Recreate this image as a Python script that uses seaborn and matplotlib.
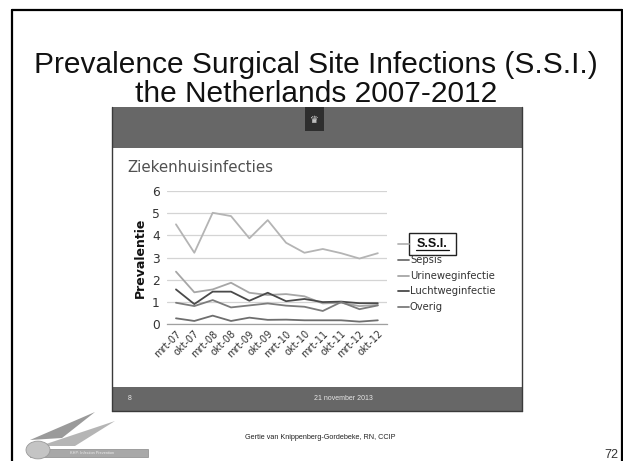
import numpy as np
import pandas as pd
import matplotlib.pyplot as plt
import seaborn as sns
from matplotlib.patches import Rectangle, Circle, Polygon
from matplotlib.lines import Line2D

# Data
periods = ['mrt-07', 'okt-07', 'mrt-08', 'okt-08', 'mrt-09', 'okt-09',
           'mrt-10', 'okt-10', 'mrt-11', 'okt-11', 'mrt-12', 'okt-12']
ssi = [4.5, 3.22, 5.02, 4.87, 3.87, 4.69, 3.67, 3.22, 3.39, 3.2, 2.96, 3.2]
sepsis = [0.27, 0.15, 0.39, 0.15, 0.3, 0.2, 0.21, 0.18, 0.18, 0.18, 0.12, 0.18]
urineweg = [2.37, 1.44, 1.57, 1.87, 1.42, 1.32, 1.36, 1.26, 0.94, 0.97, 0.82, 0.87]
luchtweg = [1.57, 0.91, 1.47, 1.47, 1.06, 1.42, 1.04, 1.14, 1.0, 1.02, 0.95, 0.95]
overig = [0.97, 0.82, 1.09, 0.76, 0.85, 0.94, 0.84, 0.79, 0.6, 1.0, 0.68, 0.85]

series_names = ['S.S.I.', 'Sepsis', 'Urineweginfectie', 'Luchtweginfectie', 'Overig']
series_values = [ssi, sepsis, urineweg, luchtweg, overig]
colors = ['#b4b4b4', '#6e6e6e', '#a6a6a6', '#4a4a4a', '#7c7c7c']

W, H = 623, 461

def fx(x):
    return x / W

def fy(y):
    return 1 - y / H

sns.set_style('white')
plt.rcParams['font.family'] = ['Liberation Sans', 'DejaVu Sans']
CHART_FONT = ['DejaVu Sans']

fig = plt.figure(figsize=(W / 100, H / 100), dpi=100)
fig.patch.set_facecolor('white')

# outer slide frame
fig.add_artist(Line2D([fx(12), fx(12)], [fy(10), fy(470)], color='black', lw=1.6))
fig.add_artist(Line2D([fx(12), fx(622)], [fy(10), fy(10)], color='black', lw=1.6))
fig.add_artist(Line2D([fx(622), fx(622)], [fy(10), fy(470)], color='black', lw=1.6))

# main title
fig.text(fx(316), fy(73), 'Prevalence Surgical Site Infections (S.S.I.)',
         ha='center', va='baseline', fontsize=21.5, color='#111111')
fig.text(fx(316), fy(102), 'the Netherlands 2007-2012',
         ha='center', va='baseline', fontsize=21.5, color='#111111')

# embedded slide: header, body and footer
fig.add_artist(Rectangle((fx(112), fy(148)), fx(522) - fx(112), fy(107) - fy(148),
                         facecolor='#676767', edgecolor='none'))
fig.add_artist(Rectangle((fx(305), fy(131)), fx(324) - fx(305), fy(107) - fy(131),
                         facecolor='#2e2e2e', edgecolor='none'))
fig.text(fx(314.5), fy(120), '♛', ha='center', va='center', fontsize=7,
         color='#e0e0e0', family=['DejaVu Sans'])
fig.add_artist(Rectangle((fx(112), fy(411)), fx(522) - fx(112), fy(387) - fy(411),
                         facecolor='#676767', edgecolor='none'))
for xx in (112, 522):
    fig.add_artist(Line2D([fx(xx), fx(xx)], [fy(107), fy(411)], color='#3a3a3a', lw=1.0))
fig.add_artist(Line2D([fx(112), fx(522)], [fy(411), fy(411)], color='#3a3a3a', lw=1.0))
fig.text(fx(130), fy(398), '8', ha='center', va='center', fontsize=5, color='#e8e8e8')
fig.text(fx(343), fy(398), '21 november 2013', ha='center', va='center',
         fontsize=5, color='#e8e8e8')

# chart title inside embedded slide
fig.text(fx(127), fy(167), 'Ziekenhuisinfecties', ha='left', va='center',
         fontsize=10.8, color='#505050', family=CHART_FONT)

# line chart
left, right, top, bottom = 166.8, 387.0, 191.0, 324.3
ax = fig.add_axes([fx(left), fy(bottom), fx(right) - fx(left), (bottom - top) / H])

rows = []
for name, vals in zip(series_names, series_values):
    for i, (p, v) in enumerate(zip(periods, vals)):
        rows.append({'idx': i, 'periode': p, 'serie': name, 'waarde': v})
df = pd.DataFrame(rows)

sns.lineplot(data=df, x='idx', y='waarde', hue='serie', hue_order=series_names,
             palette=colors, linewidth=1.3, legend=False, ax=ax)

ax.set_xlim(-0.5, len(periods) - 0.5)
ax.set_ylim(0, 6)
ax.set_yticks(range(0, 7))
ax.set_yticklabels([str(v) for v in range(0, 7)], fontsize=8.8, color='#333333',
                   family=CHART_FONT)
ax.set_xticks(range(len(periods)))
ax.set_xticklabels(periods, rotation=45, ha='right', rotation_mode='anchor',
                   fontsize=7, color='#333333', family=CHART_FONT)
ax.set_xticks(np.arange(-0.5, len(periods), 1), minor=True)
ax.tick_params(axis='x', which='major', length=0, pad=3)
ax.tick_params(axis='x', which='minor', length=3, color='#a0a0a0', direction='out')
ax.tick_params(axis='y', length=0, pad=5)
ax.grid(axis='y', color='#d4d4d4', lw=0.9)
ax.set_axisbelow(True)
for s in ('top', 'right', 'left'):
    ax.spines[s].set_visible(False)
ax.spines['bottom'].set_color('#a0a0a0')
ax.spines['bottom'].set_linewidth(0.9)
ax.set_xlabel('')
ax.set_ylabel('Prevalentie', fontsize=9, fontweight='bold', color='#111111',
              labelpad=4, family=CHART_FONT)

# legend drawn to the right of the plot; the first label sits under the S.S.I. box
leg_y = [244, 260, 275.5, 291, 307]
for k, (name, col, yy) in enumerate(zip(series_names, colors, leg_y)):
    fig.add_artist(Line2D([fx(398), fx(409)], [fy(yy), fy(yy)], color=col, lw=1.3))
    if k > 0:
        fig.text(fx(410), fy(yy), name, ha='left', va='center', fontsize=7.2,
                 color='#333333', family=CHART_FONT)

# S.S.I. label box over the first legend entry
fig.add_artist(Rectangle((fx(409), fy(255)), fx(456) - fx(409), fy(233) - fy(255),
                         facecolor='white', edgecolor='#222222', lw=1.0))
fig.text(fx(432.5), fy(243.5), 'S.S.I.', ha='center', va='center', fontsize=9,
         fontweight='bold', color='#111111')
fig.add_artist(Line2D([fx(416), fx(449)], [fy(250), fy(250)], color='#111111', lw=0.9))

# bottom logo and credits
fig.add_artist(Polygon([(fx(30), fy(440)), (fx(95), fy(412)), (fx(62), fy(438))],
                       closed=True, facecolor='#9a9a9a', edgecolor='none'))
fig.add_artist(Polygon([(fx(40), fy(446)), (fx(115), fy(421)), (fx(75), fy(446))],
                       closed=True, facecolor='#b5b5b5', edgecolor='none'))
fig.add_artist(Rectangle((fx(30), fy(457)), fx(148) - fx(30), fy(449) - fy(457),
                         facecolor='#a8a8a8', edgecolor='#888888', lw=0.5))
fig.add_artist(Circle((fx(38), fy(450)), 12 / W, facecolor='#c4c4c4',
                      edgecolor='#9a9a9a', lw=0.6))
fig.text(fx(92), fy(453), 'KHP: Infection Prevention', ha='center', va='center',
         fontsize=2.8, color='#eeeeee')
fig.text(fx(320), fy(437), 'Gertie van Knippenberg-Gordebeke, RN, CCIP',
         ha='center', va='center', fontsize=5.2, color='#222222')
fig.text(fx(611), fy(455), '72', ha='center', va='center', fontsize=9, color='#333333')

fig.savefig('out.png', dpi=100, facecolor='white')
